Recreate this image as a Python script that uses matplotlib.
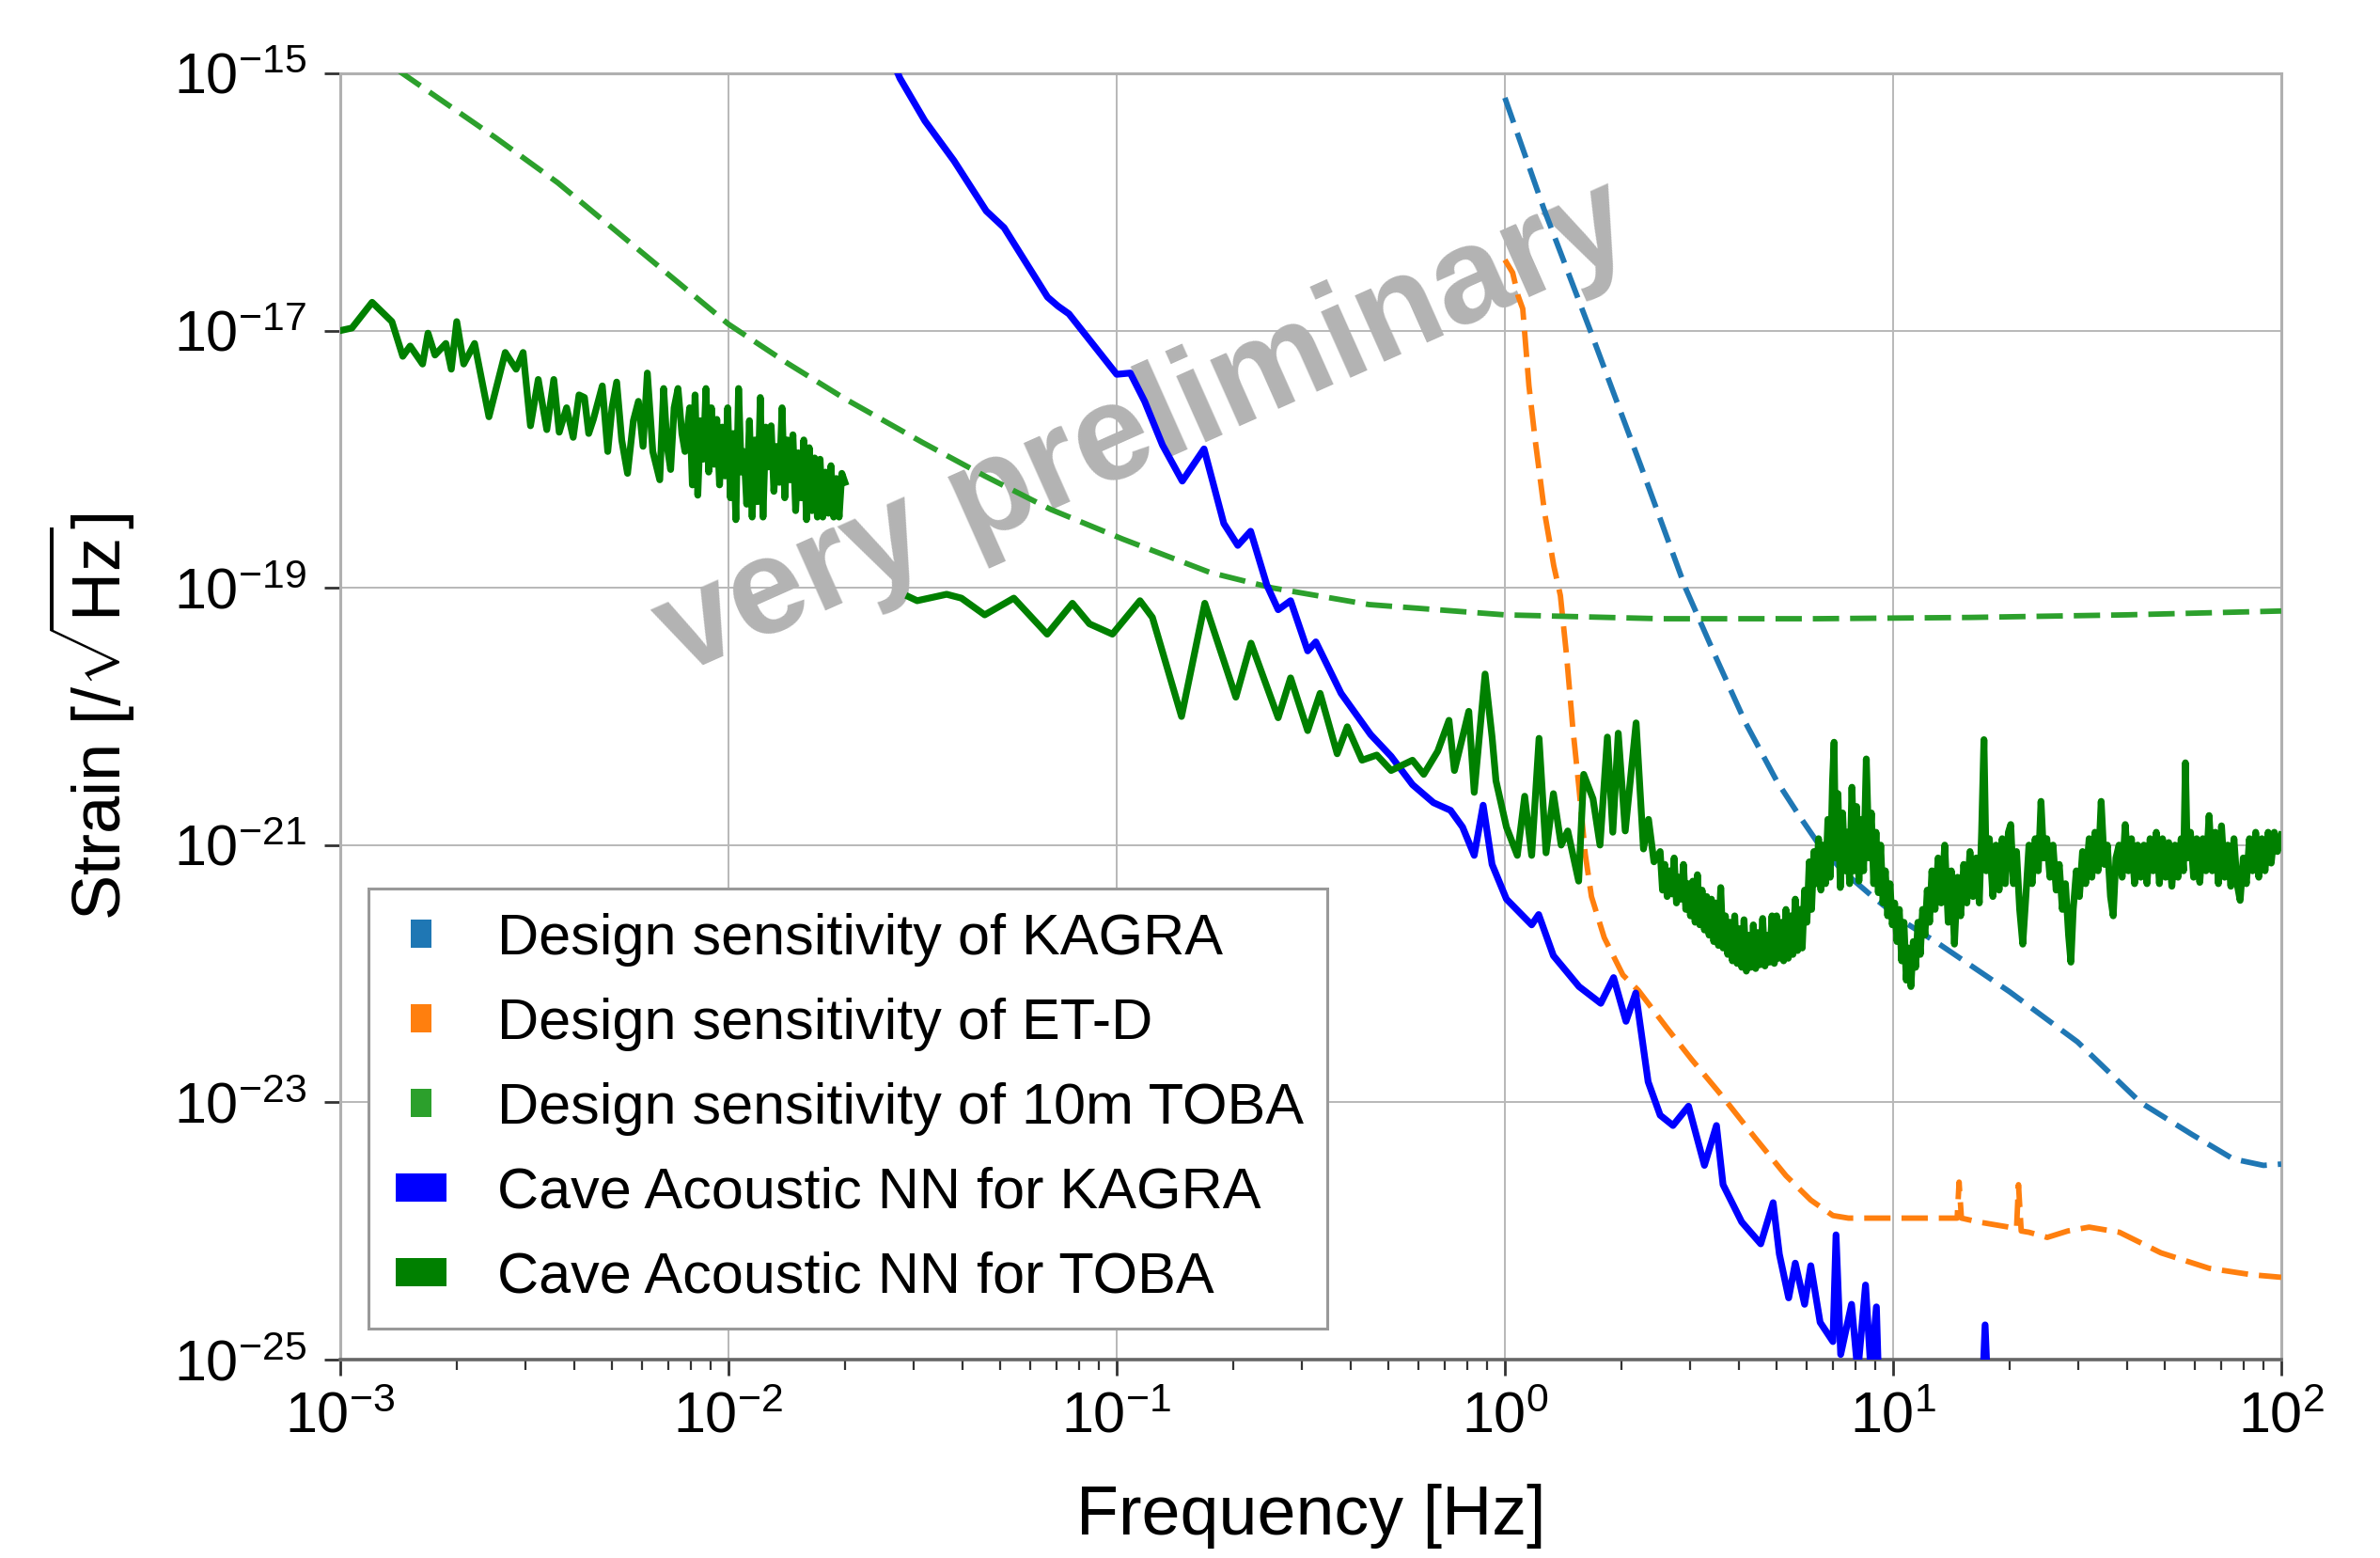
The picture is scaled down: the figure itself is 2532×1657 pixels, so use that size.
import numpy as np
import matplotlib
matplotlib.use('Agg')
import matplotlib.pyplot as plt
from matplotlib.lines import Line2D
from matplotlib.ticker import LogFormatterMathtext, NullLocator, LogLocator, FixedLocator

plt.rcParams['font.family'] = ['Liberation Sans', 'DejaVu Sans']
plt.rcParams['mathtext.fontset'] = 'custom'
plt.rcParams['mathtext.rm'] = 'Liberation Sans'
plt.rcParams['mathtext.it'] = 'Liberation Sans:italic'
plt.rcParams['mathtext.bf'] = 'Liberation Sans:bold'
plt.rcParams['mathtext.sf'] = 'Liberation Sans'

# ---------------- data (log10 frequency [Hz], log10 strain [1/sqrt(Hz)]) ----------------
kagra_logf = [0.0, 0.10, 0.22, 0.35, 0.465, 0.545, 0.62, 0.70, 0.76, 0.81, 0.87, 0.947,
              1.03, 1.119, 1.30, 1.475, 1.637, 1.77, 1.876, 1.954, 2.0]
kagra_logh = [-15.19, -16.05, -17.0, -18.05, -19.0, -19.55, -20.05, -20.5, -20.78, -21.0,
              -21.2, -21.4, -21.6, -21.77, -22.14, -22.53, -23.0, -23.25, -23.44, -23.49, -23.48]

etd_logf = [0.0, 0.02, 0.034, 0.046, 0.062, 0.078, 0.102, 0.126, 0.143, 0.159, 0.175, 0.191,
            0.207, 0.223, 0.256, 0.304, 0.344, 0.417, 0.482, 0.562, 0.643, 0.724, 0.788, 0.845,
            0.885, 1.0, 1.165, 1.170, 1.176, 1.22, 1.318, 1.323, 1.330, 1.35, 1.397, 1.45,
            1.505, 1.583, 1.69, 1.814, 1.923, 2.0]
etd_logh = [-16.45, -16.55, -16.73, -16.83, -17.43, -17.85, -18.41, -18.83, -19.06, -19.53,
            -20.09, -20.56, -21.07, -21.40, -21.72, -22.01, -22.13, -22.42, -22.67, -22.96,
            -23.27, -23.57, -23.76, -23.88, -23.9, -23.9, -23.9, -23.62, -23.9, -23.93, -23.98,
            -23.64, -24.0, -24.01, -24.05, -24.0, -23.97, -24.01, -24.17, -24.29, -24.34, -24.36]

toba_logf = [-3.0, -2.84, -2.6, -2.44, -2.18, -2.0, -1.85, -1.7, -1.5, -1.34, -1.17, -0.985,
             -0.76, -0.6, -0.35, 0.0, 0.4, 0.8, 1.2, 1.6, 2.0]
toba_logh = [-14.62, -15.0, -15.5, -15.85, -16.5, -16.95, -17.25, -17.53, -17.87, -18.13,
             -18.39, -18.62, -18.88, -19.0, -19.13, -19.21, -19.24, -19.24, -19.23, -19.21,
             -19.18]

nn_kagra_logf = [-1.60, -1.558, -1.494, -1.419, -1.336, -1.29, -1.178, -1.151, -1.123, -1.0,
                 -0.965, -0.928, -0.882, -0.831, -0.775, -0.724, -0.688, -0.655, -0.613,
                 -0.584, -0.552, -0.508, -0.487, -0.422, -0.346, -0.293, -0.238, -0.184,
                 -0.14, -0.109, -0.079, -0.056, -0.033, 0.004, 0.069, 0.087, 0.125, 0.191,
                 0.247, 0.28, 0.312, 0.337, 0.369, 0.40, 0.433, 0.473, 0.514, 0.545, 0.562,
                 0.61, 0.659, 0.691, 0.707, 0.731, 0.748, 0.772, 0.788, 0.812, 0.845, 0.853,
                 0.865, 0.893, 0.909, 0.929, 0.943, 0.957, 0.965, 1.228, 1.237, 1.246, 2.0]
nn_kagra_logh = [-14.75, -15.04, -15.37, -15.68, -16.07, -16.2, -16.74, -16.81, -16.87, -17.34,
                 -17.33, -17.55, -17.89, -18.17, -17.92, -18.5, -18.67, -18.56, -18.98,
                 -19.17, -19.1, -19.49, -19.42, -19.82, -20.14, -20.31, -20.53, -20.67,
                 -20.73, -20.86, -21.08, -20.69, -21.15, -21.42, -21.62, -21.54, -21.86, -22.1,
                 -22.23, -22.03, -22.37, -22.15, -22.84, -23.10, -23.18, -23.03, -23.49, -23.18,
                 -23.64, -23.93, -24.10, -23.78, -24.18, -24.52, -24.25, -24.57, -24.27, -24.71,
                 -24.86, -24.03, -24.96, -24.57, -25.1, -24.42, -25.1, -24.59, -25.4, -25.4,
                 -24.73, -25.4, -25.4]

# Cave acoustic NN for TOBA, (log10 f, log10 h) pairs
nn_toba_low = [
    (-3.0, -17.0), (-2.97, -16.98), (-2.918, -16.78), (-2.867, -16.93), (-2.839, -17.20),
    (-2.82, -17.12), (-2.788, -17.26), (-2.774, -17.02), (-2.756, -17.19), (-2.728, -17.10),
    (-2.714, -17.30), (-2.70, -16.93), (-2.682, -17.26), (-2.654, -17.10), (-2.617, -17.67),
    (-2.575, -17.17), (-2.547, -17.30), (-2.529, -17.17), (-2.51, -17.74), (-2.49, -17.38),
    (-2.468, -17.77), (-2.45, -17.38), (-2.436, -17.79), (-2.417, -17.60), (-2.40, -17.83),
    (-2.385, -17.5), (-2.371, -17.52), (-2.36, -17.8), (-2.348, -17.69), (-2.325, -17.43),
    (-2.311, -17.94), (-2.30, -17.6), (-2.288, -17.40), (-2.275, -17.85), (-2.26, -18.11),
    (-2.245, -17.7), (-2.232, -17.55), (-2.22, -17.9), (-2.209, -17.33), (-2.195, -17.94),
    (-2.177, -18.16), (-2.167, -17.45), (-2.158, -17.9), (-2.149, -18.08), (-2.14, -17.6),
    (-2.13, -17.45), (-2.12, -17.8), (-2.112, -17.94),
    (-2.100, -17.6), (-2.093, -18.2), (-2.086, -17.5), (-2.079, -18.28), (-2.072, -17.7),
    (-2.065, -18.0), (-2.058, -17.45), (-2.051, -18.1), (-2.044, -17.6), (-2.037, -18.04),
    (-2.030, -17.69), (-2.023, -18.2), (-2.016, -17.75), (-2.009, -18.13), (-2.002, -17.6),
    (-1.995, -18.3), (-1.988, -17.8), (-1.981, -18.47), (-1.974, -17.45), (-1.967, -18.1),
    (-1.960, -17.94), (-1.953, -18.35), (-1.946, -17.7), (-1.939, -18.45), (-1.932, -17.85),
    (-1.925, -18.33), (-1.918, -17.52), (-1.911, -18.45), (-1.904, -17.75), (-1.897, -18.06),
    (-1.890, -17.74), (-1.883, -18.25), (-1.876, -17.9), (-1.869, -18.18), (-1.862, -17.6),
    (-1.855, -18.3), (-1.848, -17.85), (-1.841, -18.16), (-1.834, -17.81), (-1.827, -18.4),
    (-1.820, -17.95), (-1.813, -18.3), (-1.806, -17.85), (-1.799, -18.47), (-1.792, -17.91),
    (-1.785, -18.4), (-1.778, -17.99), (-1.771, -18.45), (-1.764, -18.0), (-1.757, -18.45),
    (-1.750, -18.1), (-1.743, -18.42), (-1.736, -18.05), (-1.729, -18.45), (-1.722, -18.15),
    (-1.715, -18.45), (-1.708, -18.11), (-1.700, -18.18)]

nn_toba_mid = [
    (-1.535, -19.07), (-1.514, -19.10), (-1.438, -19.05), (-1.40, -19.08), (-1.34, -19.21),
    (-1.265, -19.08), (-1.179, -19.36), (-1.114, -19.12), (-1.07, -19.28), (-1.011, -19.36),
    (-0.94, -19.10), (-0.908, -19.23), (-0.833, -20.0), (-0.773, -19.12), (-0.693, -19.85),
    (-0.654, -19.43), (-0.584, -20.01), (-0.552, -19.70), (-0.508, -20.11), (-0.476, -19.82),
    (-0.432, -20.29), (-0.406, -20.08), (-0.368, -20.34), (-0.33, -20.30), (-0.293, -20.42),
    (-0.238, -20.34), (-0.209, -20.45), (-0.173, -20.27), (-0.144, -20.03), (-0.13, -20.42),
    (-0.093, -19.96), (-0.079, -20.59), (-0.051, -19.67), (-0.033, -20.16), (-0.023, -20.50),
    (0.004, -20.86), (0.032, -21.08), (0.051, -20.62), (0.069, -21.08), (0.088, -20.17),
    (0.106, -21.06), (0.125, -20.60), (0.145, -21.0), (0.162, -20.89), (0.19, -21.28),
    (0.203, -20.45), (0.227, -20.64), (0.245, -21.0), (0.264, -20.16), (0.278, -20.9),
    (0.292, -20.13), (0.31, -20.89), (0.338, -20.05), (0.357, -21.03), (0.37, -20.8),
    (0.384, -21.13)]

nn_toba_high = [
    (0.400, -21.05), (0.406, -21.35), (0.412, -21.15), (0.418, -21.4), (0.424, -21.2),
    (0.430, -21.38), (0.436, -21.1), (0.442, -21.45), (0.448, -21.25), (0.454, -21.42),
    (0.460, -21.15), (0.466, -21.5), (0.472, -21.3), (0.478, -21.55), (0.484, -21.28),
    (0.490, -21.6), (0.496, -21.23), (0.502, -21.62), (0.508, -21.35), (0.514, -21.66),
    (0.520, -21.4), (0.526, -21.7), (0.532, -21.42), (0.538, -21.75), (0.544, -21.45),
    (0.550, -21.78), (0.556, -21.33), (0.562, -21.8), (0.568, -21.55), (0.574, -21.85),
    (0.580, -21.6), (0.586, -21.9), (0.592, -21.55), (0.598, -21.92), (0.604, -21.65),
    (0.610, -21.95), (0.616, -21.58), (0.622, -21.98), (0.628, -21.7), (0.634, -21.95),
    (0.640, -21.62), (0.646, -21.96), (0.652, -21.68), (0.658, -21.93), (0.664, -21.57),
    (0.670, -21.94), (0.676, -21.7), (0.682, -21.91), (0.688, -21.55), (0.694, -21.92),
    (0.700, -21.55), (0.706, -21.88), (0.712, -21.6), (0.718, -21.9), (0.724, -21.5),
    (0.730, -21.88), (0.736, -21.55), (0.742, -21.85), (0.748, -21.42), (0.754, -21.82),
    (0.760, -21.5), (0.766, -21.8), (0.772, -21.35), (0.778, -21.6), (0.784, -21.13),
    (0.790, -21.5), (0.796, -21.05), (0.802, -21.3), (0.808, -20.95), (0.814, -21.35),
    (0.820, -21.0), (0.826, -21.3), (0.832, -20.8), (0.838, -21.25), (0.844, -20.5),
    (0.848, -20.2), (0.852, -21.1), (0.858, -20.6), (0.864, -21.33), (0.870, -20.75),
    (0.876, -21.2), (0.882, -20.9), (0.888, -21.3), (0.894, -20.55), (0.900, -21.2),
    (0.906, -20.7), (0.912, -21.28), (0.918, -20.8), (0.924, -21.2), (0.931, -20.33),
    (0.938, -21.1), (0.944, -20.75), (0.950, -21.3), (0.956, -20.9), (0.962, -21.37),
    (0.968, -21.0), (0.974, -21.45), (0.980, -21.2), (0.986, -21.55), (0.992, -21.3),
    (0.998, -21.62), (1.004, -21.45), (1.010, -21.75), (1.016, -21.5), (1.022, -21.9),
    (1.028, -21.6), (1.034, -22.05), (1.040, -21.8), (1.046, -22.1), (1.052, -21.75),
    (1.058, -21.95), (1.064, -21.6), (1.070, -21.85), (1.076, -21.5), (1.082, -21.7),
    (1.088, -21.35), (1.094, -21.6), (1.100, -21.2), (1.108, -21.5), (1.116, -21.1),
    (1.124, -21.45), (1.133, -21.0), (1.142, -21.6), (1.150, -21.2), (1.158, -21.77),
    (1.166, -21.25), (1.174, -21.55), (1.182, -21.15), (1.190, -21.45), (1.198, -21.05),
    (1.206, -21.4), (1.214, -21.1), (1.222, -21.45), (1.228, -20.9), (1.234, -20.18),
    (1.240, -21.2), (1.248, -20.95), (1.257, -21.4), (1.265, -21.0), (1.273, -21.35),
    (1.281, -20.95), (1.289, -21.3), (1.297, -20.9), (1.303, -20.84), (1.310, -21.3),
    (1.318, -21.05), (1.326, -21.5), (1.334, -21.77), (1.342, -21.4), (1.350, -21.0),
    (1.358, -21.3), (1.366, -20.95), (1.374, -21.2), (1.381, -20.66), (1.388, -21.1),
    (1.396, -20.95), (1.404, -21.25), (1.412, -21.0), (1.420, -21.35), (1.428, -21.15),
    (1.436, -21.5), (1.444, -21.3), (1.452, -21.7), (1.458, -21.91), (1.464, -21.5),
    (1.472, -21.2), (1.480, -21.4), (1.488, -21.05), (1.496, -21.3), (1.505, -20.95),
    (1.512, -21.25), (1.520, -20.9), (1.528, -21.2), (1.536, -20.66), (1.544, -21.15),
    (1.552, -21.0), (1.560, -21.4), (1.567, -21.55), (1.574, -21.1), (1.582, -21.0),
    (1.590, -21.25), (1.598, -20.84), (1.606, -21.2), (1.614, -20.95), (1.622, -21.3),
    (1.630, -21.0), (1.638, -21.25), (1.646, -21.0), (1.654, -21.3), (1.662, -20.95),
    (1.670, -21.2), (1.678, -20.9), (1.686, -21.3), (1.694, -20.95), (1.702, -21.25),
    (1.710, -20.98), (1.718, -21.32), (1.726, -21.0), (1.734, -21.25), (1.742, -20.95),
    (1.748, -21.2), (1.753, -20.36), (1.758, -21.1), (1.766, -20.9), (1.774, -21.25),
    (1.782, -20.95), (1.790, -21.29), (1.798, -20.95), (1.806, -21.2), (1.814, -20.77),
    (1.822, -21.2), (1.830, -20.9), (1.838, -21.3), (1.846, -20.85), (1.854, -21.25),
    (1.862, -21.0), (1.870, -21.32), (1.878, -20.95), (1.886, -21.3), (1.894, -21.43),
    (1.902, -21.1), (1.910, -21.3), (1.918, -20.95), (1.926, -21.2), (1.934, -20.9),
    (1.942, -21.25), (1.950, -20.95), (1.958, -21.2), (1.966, -20.9), (1.974, -21.14),
    (1.982, -20.9), (1.990, -21.05), (2.0, -20.92)]

labels = ['Design sensitivity of KAGRA', 'Design sensitivity of ET-D',
          'Design sensitivity of 10m TOBA', 'Cave Acoustic NN for KAGRA',
          'Cave Acoustic NN for TOBA']
colors = ['#1f77b4', '#ff7f0e', '#2ca02c', 'blue', 'green']
xtick_exps = [-3, -2, -1, 0, 1, 2]
ytick_exps = [-25, -23, -21, -19, -17, -15]


def tolin(a):
    return 10.0 ** np.asarray(a, dtype=float)


# ---------------- figure ----------------
fig = plt.figure(figsize=(25.32, 16.57), dpi=100)
ax = fig.add_axes([362 / 2532, 1 - 1446 / 1657, 2065 / 2532, 1368 / 1657])
ax.set_xscale('log')
ax.set_yscale('log')

lw_d = 4.2
lw_s = 5.2
dash = (4.8, 2.0)
ax.plot(tolin(kagra_logf), tolin(kagra_logh), color=colors[0], lw=lw_d, dashes=dash, zorder=3)
ax.plot(tolin(etd_logf), tolin(etd_logh), color=colors[1], lw=lw_d, dashes=dash, zorder=3)
ax.plot(tolin(toba_logf), tolin(toba_logh), color=colors[2], lw=lw_d, dashes=dash, zorder=3)
ax.plot(tolin(nn_kagra_logf), tolin(nn_kagra_logh), color=colors[3], lw=lw_s, zorder=3)

low = np.array(nn_toba_low)
rest = np.array(nn_toba_mid + nn_toba_high)
nn_toba_f = np.concatenate([tolin(low[:, 0]), [np.nan], tolin(rest[:, 0])])
nn_toba_h = np.concatenate([tolin(low[:, 1]), [np.nan], tolin(rest[:, 1])])
ax.plot(nn_toba_f, nn_toba_h, color=colors[4], lw=lw_s, zorder=3)

ax.set_xlim(1e-3, 1e2)
ax.set_ylim(1e-25, 1e-15)

ax.xaxis.set_major_locator(FixedLocator([10.0 ** e for e in xtick_exps]))
ax.xaxis.set_minor_locator(LogLocator(base=10, subs=np.arange(2, 10), numticks=50))
ax.xaxis.set_major_formatter(LogFormatterMathtext())
ax.yaxis.set_major_locator(FixedLocator([10.0 ** e for e in ytick_exps]))
ax.yaxis.set_minor_locator(NullLocator())
ax.yaxis.set_major_formatter(LogFormatterMathtext())

ax.tick_params(axis='both', which='major', direction='out', length=12, width=2.0,
               color='#333333', labelsize=44)
ax.tick_params(axis='x', which='major', pad=12)
ax.tick_params(axis='y', which='major', pad=14)
ax.tick_params(axis='x', which='minor', direction='out', length=8, width=1.6, color='#333333')

ax.grid(True, which='major', color='#b8b8b8', lw=1.4)
ax.set_axisbelow(True)
for side in ['left', 'top', 'right']:
    ax.spines[side].set_color('#b0b0b0')
    ax.spines[side].set_linewidth(2.2)
ax.spines['bottom'].set_color('#666666')
ax.spines['bottom'].set_linewidth(2.6)

ax.set_xlabel('Frequency [Hz]', fontsize=53, labelpad=30)
ax.set_ylabel(r'Strain [/$\sqrt{\mathrm{Hz}}$]', fontsize=52, labelpad=28)

# watermark
ax.text(0.4145, 0.723, 'very preliminary', transform=ax.transAxes, fontsize=104,
        fontweight='bold', color='#b3b3b3', rotation=24, ha='center', va='center',
        rotation_mode='anchor', zorder=2)

# legend with block handles
design_marker = [(-0.367, -0.5), (0.367, -0.5), (0.367, 0.5), (-0.367, 0.5), (-0.367, -0.5)]
nn_marker = [(-0.5, -0.278), (0.5, -0.278), (0.5, 0.278), (-0.5, 0.278), (-0.5, -0.278)]
handles = []
for i in range(3):
    handles.append(Line2D([], [], linestyle='none', marker=design_marker, markersize=21.6,
                          markerfacecolor=colors[i], markeredgewidth=0))
for i in range(3, 5):
    handles.append(Line2D([], [], linestyle='none', marker=nn_marker, markersize=38.9,
                          markerfacecolor=colors[i], markeredgewidth=0))
leg = ax.legend(handles, labels, loc='lower left', bbox_to_anchor=(0.0145, 0.024),
                borderaxespad=0, fontsize=44, fancybox=False, edgecolor='#999999',
                framealpha=1, borderpad=0.42, handlelength=0.99, handletextpad=0.83,
                labelspacing=0.54, numpoints=1)
leg.get_frame().set_linewidth(2.2)
leg.set_zorder(5)

fig.savefig('out.png', dpi=100)
